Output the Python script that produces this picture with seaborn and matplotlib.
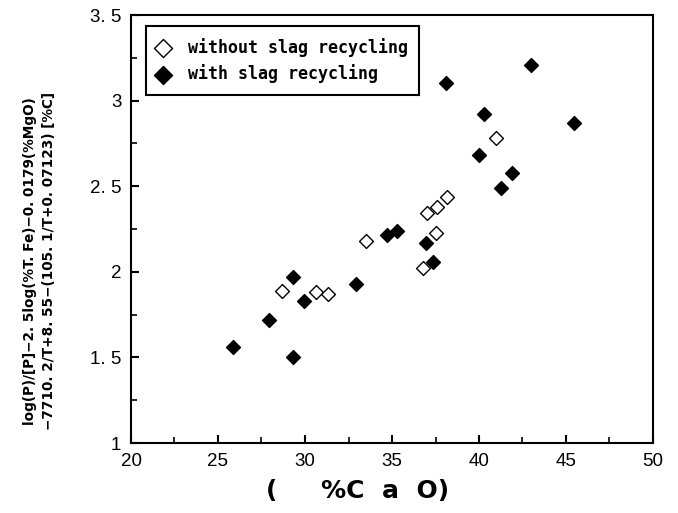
import numpy as np
import pandas as pd
import seaborn as sns
import matplotlib
matplotlib.use("Agg")
import matplotlib.pyplot as plt
from matplotlib.ticker import MultipleLocator

# ---- data ----
cao_without = [28.66, 30.63, 31.30, 33.5, 36.8, 36.99, 37.53, 37.6, 38.14, 40.98]
val_without = [1.89, 1.88, 1.87, 2.18, 2.02, 2.345, 2.225, 2.38, 2.435, 2.78]
cao_with = [25.84, 27.95, 29.29, 29.33, 29.93, 32.91, 34.69, 35.31, 36.93,
            37.37, 38.08, 40.02, 40.29, 41.25, 41.88, 42.99, 45.46]
val_with = [1.56, 1.72, 1.97, 1.50, 1.83, 1.93, 2.215, 2.24, 2.17,
            2.06, 3.10, 2.68, 2.92, 2.49, 2.58, 3.21, 2.87]
series_labels = ["without slag recycling", "with slag recycling"]
xtick_values = [20, 25, 30, 35, 40, 45, 50]
xtick_labels = ["20", "25", "30", "35", "40", "45", "50"]
ytick_values = [1, 1.5, 2, 2.5, 3, 3.5]
ytick_labels = ["1", "1. 5", "2", "2. 5", "3", "3. 5"]
xlabel = "(     %C  a  O)"
ylabel = ("log(P)/[P]\u22122. 5log(%T. Fe)\u22120. 0179(%MgO)\n"
          "\u22127710. 2/T+8. 55\u2212(105. 1/T+0. 07123) [%C]")

df_without = pd.DataFrame({"CaO": cao_without, "val": val_without})
df_with = pd.DataFrame({"CaO": cao_with, "val": val_with})

sns.set_style("white")
plt.rcParams["font.family"] = ["Liberation Sans", "DejaVu Sans"]
plt.rcParams["text.color"] = "black"
plt.rcParams["axes.labelcolor"] = "black"

fig = plt.figure(figsize=(6.78, 5.13), dpi=100)
ax = fig.add_axes([131 / 678, 1 - 443 / 513, (653 - 131) / 678, (443 - 15) / 513])

sns.scatterplot(data=df_without, x="CaO", y="val", marker="D", s=50,
                color="white", edgecolor="black", linewidth=1.0,
                label=series_labels[0], ax=ax, zorder=3)
sns.scatterplot(data=df_with, x="CaO", y="val", marker="D", s=50,
                color="black", edgecolor="black", linewidth=1.0,
                label=series_labels[1], ax=ax, zorder=3)

ax.set_xlim(20, 50)
ax.set_ylim(1, 3.5)
ax.set_xticks(xtick_values)
ax.set_xticklabels(xtick_labels)
ax.set_yticks(ytick_values)
ax.set_yticklabels(ytick_labels)
ax.xaxis.set_minor_locator(MultipleLocator(2.5))
ax.yaxis.set_minor_locator(MultipleLocator(0.25))
ax.tick_params(which="major", direction="in", length=6, width=1.5,
               labelsize=13.5, colors="black", pad=7,
               bottom=True, left=True, top=False, right=False)
ax.tick_params(which="minor", direction="in", length=4, width=1.2,
               colors="black", bottom=True, left=True, top=False, right=False)
for sp in ax.spines.values():
    sp.set_visible(True)
    sp.set_color("black")
    sp.set_linewidth(1.5)

ax.set_xlabel(xlabel, fontsize=18, fontweight="bold", family="DejaVu Sans")
ax.xaxis.set_label_coords((358 - 131) / 522, -0.085)
ax.set_ylabel(ylabel, fontsize=9.8, fontweight="bold", family="DejaVu Sans",
              linespacing=1.45)
ax.yaxis.set_label_coords((56 - 131) / 522, 0.425)

leg = ax.legend(loc="upper left", bbox_to_anchor=(0.029, 0.974),
                borderaxespad=0, frameon=True, fancybox=False,
                edgecolor="black", framealpha=1,
                prop={"family": "DejaVu Sans Mono", "weight": "bold", "size": 12},
                borderpad=0.7, labelspacing=0.45, handlelength=0.6,
                handletextpad=1.2, markerscale=1.3)
leg.get_frame().set_linewidth(1.5)
for t in leg.get_texts():
    t.set_color("black")

fig.savefig("out.png", dpi=100, facecolor="white")
